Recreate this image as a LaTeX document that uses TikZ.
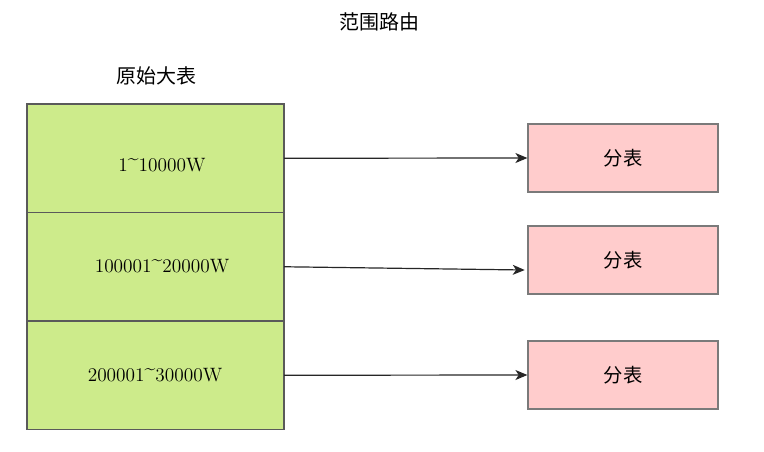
\documentclass[tikz,border=0pt]{standalone}
\usepackage{fontspec}
\newfontfamily\cjk{Noto Sans CJK SC}
\usepackage{tikz}
\usetikzlibrary{arrows.meta,positioning}
\definecolor{rowgreen}{HTML}{CDEB8B}
\definecolor{rowedge}{HTML}{5A5A5A}
\definecolor{shardpink}{HTML}{FFCCCC}
\definecolor{shardedge}{HTML}{7A7A7A}
\newcommand{\uptilde}{\raisebox{0.85ex}{\textasciitilde}}

\begin{document}
\begin{tikzpicture}[
  x=0.75pt, y=-0.75pt,
  font=\fontsize{14.5}{16}\selectfont,
  rangerow/.style={draw=rowedge, fill=rowgreen, line width=0.9pt,
    minimum width=257*0.75pt, minimum height=108.5*0.75pt,
    inner sep=0pt, outer sep=0pt},
  shard/.style={draw=shardedge, fill=shardpink, line width=0.9pt,
    minimum width=190*0.75pt, minimum height=68*0.75pt,
    inner sep=0pt, font=\cjk\fontsize{14.5}{16}\selectfont},
  caption/.style={font=\cjk\fontsize{15}{17}\selectfont, inner sep=0pt},
  route/.style={-{Stealth[length=9pt, width=7.5pt, inset=2.5pt]}, line width=0.9pt, draw=black!85}
]
  \useasboundingbox (0,0) rectangle (764,451);

  \node[caption] (title) at (379,22) {范围路由};
  \node[caption] (origin) at (156,76) {原始大表};

  % range rows of the original table
  \node[rangerow, anchor=north west] (row1) at (27,104) {};
  \node[rangerow, below=0pt of row1] (row2) {};
  \node[rangerow, below=0pt of row2] (row3) {};

  \node[inner sep=0pt] (range1) at (162,165) {1\uptilde10000W};
  \node[inner sep=0pt] (range2) at (162,266) {100001\uptilde20000W};
  \node[inner sep=0pt] (range3) at (155,375) {200001\uptilde30000W};

  % shards
  \node[shard] (shard1) at (623,158) {分表};
  \node[shard] (shard2) at (623,260) {分表};
  \node[shard] (shard3) at (623,375) {分表};

  \draw[route] (row1.east) -- (shard1.west);
  \draw[route] (row2.east) -- ([yshift=-7.5pt, xshift=-2pt]shard2.west);
  \draw[route] (row3.east) -- (shard3.west);
\end{tikzpicture}
\end{document}
